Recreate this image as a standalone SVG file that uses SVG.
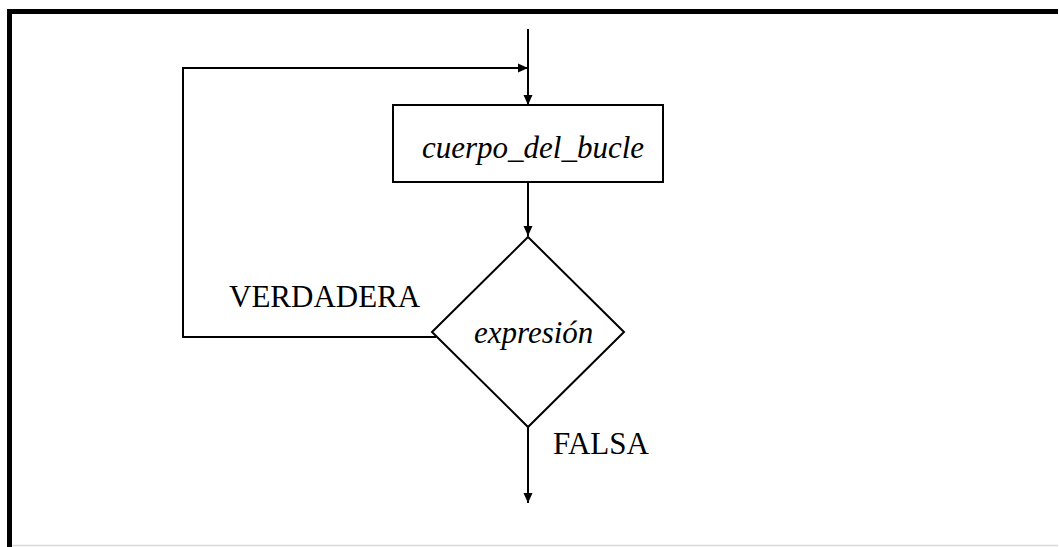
<svg xmlns="http://www.w3.org/2000/svg" width="1059" height="547" viewBox="0 0 1059 547">
<defs>
<style>
.ln{fill:none;stroke:#000;stroke-width:2}
.sh{fill:#fff;stroke:#000;stroke-width:2}
.t{font-family:"Liberation Serif","Times New Roman",serif;font-size:31px;fill:#000}
.i{font-style:italic}
</style>
<marker id="ah" viewBox="0 0 10 10" refX="10" refY="5" markerWidth="10" markerHeight="10" markerUnits="userSpaceOnUse" orient="auto">
<path d="M0,0.5 L10,5 L0,9.5 Z" fill="#000"/>
</marker>
</defs>
<rect width="1059" height="547" fill="#fff"/>
<g id="frame">
<path d="M9.5,547 V11.5 H1058" fill="none" stroke="#000" stroke-width="5"/>
<line x1="12" y1="545.5" x2="1058" y2="545.5" stroke="#d9d9d9" stroke-width="1.5"/>
</g>
<g id="connectors">
<line class="ln" x1="528" y1="29" x2="528" y2="105" marker-end="url(#ah)"/>
<polyline class="ln" points="436,337 183,337 183,68 528,68" marker-end="url(#ah)"/>
<line class="ln" x1="528" y1="182" x2="528" y2="236" marker-end="url(#ah)"/>
<line class="ln" x1="528" y1="427" x2="528" y2="503" marker-end="url(#ah)"/>
</g>
<g id="body">
<rect class="sh" x="393" y="105" width="270" height="77"/>
<text class="t i" x="422" y="158">cuerpo_del_bucle</text>
</g>
<g id="decision">
<polygon class="sh" points="528,237 624,332 528,427 432,332"/>
<text class="t i" x="474" y="343">expresión</text>
</g>
<g id="labels">
<text class="t" x="229" y="307">VERDADERA</text>
<text class="t" x="553" y="454">FALSA</text>
</g>
</svg>
